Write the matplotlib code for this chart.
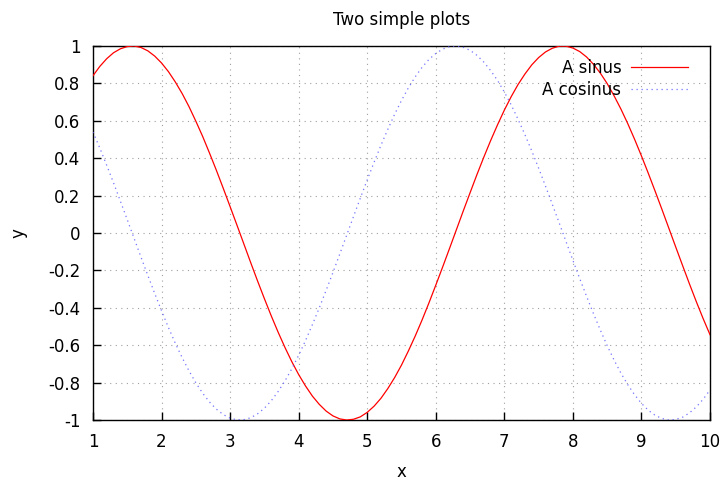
import matplotlib
matplotlib.use("Agg")
import matplotlib.pyplot as plt

# sampled curve values, step 0.1 on x
xs = [1.0, 1.1, 1.2, 1.3, 1.4, 1.5, 1.6, 1.7, 1.8, 1.9,
      2.0, 2.1, 2.2, 2.3, 2.4, 2.5, 2.6, 2.7, 2.8, 2.9,
      3.0, 3.1, 3.2, 3.3, 3.4, 3.5, 3.6, 3.7, 3.8, 3.9,
      4.0, 4.1, 4.2, 4.3, 4.4, 4.5, 4.6, 4.7, 4.8, 4.9,
      5.0, 5.1, 5.2, 5.3, 5.4, 5.5, 5.6, 5.7, 5.8, 5.9,
      6.0, 6.1, 6.2, 6.3, 6.4, 6.5, 6.6, 6.7, 6.8, 6.9,
      7.0, 7.1, 7.2, 7.3, 7.4, 7.5, 7.6, 7.7, 7.8, 7.9,
      8.0, 8.1, 8.2, 8.3, 8.4, 8.5, 8.6, 8.7, 8.8, 8.9,
      9.0, 9.1, 9.2, 9.3, 9.4, 9.5, 9.6, 9.7, 9.8, 9.9,
      10.0]
sinus = [0.841, 0.891, 0.932, 0.964, 0.985, 0.997, 1.000, 0.992, 0.974, 0.946,
         0.909, 0.863, 0.808, 0.746, 0.676, 0.598, 0.516, 0.427, 0.335, 0.239,
         0.141, 0.042, -0.058, -0.158, -0.256, -0.351, -0.443, -0.530, -0.612, -0.688,
         -0.757, -0.818, -0.872, -0.916, -0.952, -0.978, -0.994, -1.000, -0.996, -0.983,
         -0.959, -0.926, -0.884, -0.832, -0.773, -0.706, -0.631, -0.551, -0.465, -0.374,
         -0.279, -0.182, -0.083, 0.017, 0.117, 0.215, 0.312, 0.405, 0.494, 0.578,
         0.657, 0.729, 0.794, 0.850, 0.899, 0.938, 0.968, 0.988, 0.999, 0.999,
         0.989, 0.970, 0.941, 0.902, 0.855, 0.799, 0.734, 0.663, 0.585, 0.501,
         0.412, 0.319, 0.223, 0.125, 0.025, -0.075, -0.174, -0.272, -0.367, -0.458,
         -0.544]
cosinus = [0.540, 0.454, 0.362, 0.268, 0.170, 0.071, -0.029, -0.129, -0.227, -0.323,
           -0.416, -0.505, -0.589, -0.666, -0.737, -0.801, -0.857, -0.904, -0.942, -0.971,
           -0.990, -0.999, -0.998, -0.988, -0.967, -0.937, -0.897, -0.848, -0.791, -0.726,
           -0.654, -0.575, -0.490, -0.401, -0.307, -0.211, -0.112, -0.012, 0.088, 0.187,
           0.284, 0.378, 0.469, 0.554, 0.635, 0.709, 0.776, 0.835, 0.886, 0.928,
           0.960, 0.983, 0.997, 1.000, 0.993, 0.977, 0.950, 0.914, 0.869, 0.816,
           0.754, 0.685, 0.608, 0.526, 0.439, 0.347, 0.251, 0.153, 0.054, -0.046,
           -0.146, -0.244, -0.339, -0.431, -0.519, -0.602, -0.679, -0.749, -0.811, -0.865,
           -0.911, -0.948, -0.975, -0.992, -1.000, -0.997, -0.985, -0.962, -0.930, -0.889,
           -0.839]

xticks = [1, 2, 3, 4, 5, 6, 7, 8, 9, 10]
yticks = [-1, -0.8, -0.6, -0.4, -0.2, 0, 0.2, 0.4, 0.6, 0.8, 1]
ytick_labels = ["-1", "-0.8", "-0.6", "-0.4", "-0.2", "0", "0.2", "0.4", "0.6", "0.8", "1"]

plt.rcParams["font.family"] = "DejaVu Sans"
fig = plt.figure(figsize=(7.22, 4.82), dpi=100)
ax = fig.add_axes([0.1288, 0.1286, 0.8546, 0.776])

ax.plot(xs, sinus, color="red", lw=0.9, label="A sinus", zorder=3)
ax.plot(xs, cosinus, color="#5050ff", lw=0.9, ls=(0, (1, 3)), alpha=0.8,
        label="A cosinus", zorder=3)

ax.set_xlim(1, 10)
ax.set_ylim(-1, 1)
ax.set_xticks(xticks)
ax.set_yticks(yticks)
ax.set_yticklabels(ytick_labels)
ax.tick_params(direction="in", length=6, width=1, labelsize=12, pad=9,
               top=False, right=False)
ax.grid(True, color="#a0a0a0", lw=0.8, ls=(0, (1, 4)))
for s in ax.spines.values():
    s.set_linewidth(1.0)

ax.set_title("Two simple plots", fontsize=12, pad=15)
ax.set_xlabel("x", fontsize=12, labelpad=9)
ax.set_ylabel("y", fontsize=12, labelpad=15)

ax.legend(loc="upper right", frameon=False, markerfirst=False, fontsize=12,
          handlelength=3.4, handletextpad=0.6, labelspacing=0.2,
          borderaxespad=0.4, bbox_to_anchor=(0.986, 1.0))

fig.savefig("out.png", dpi=100)
